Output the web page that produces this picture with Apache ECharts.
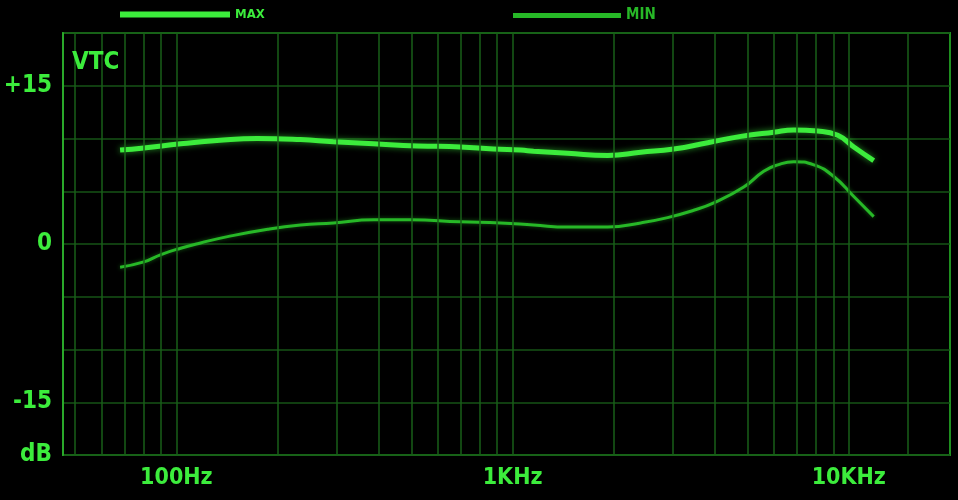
<!DOCTYPE html>
<html>
<head>
<meta charset="utf-8">
<script src="https://cdn.jsdelivr.net/npm/echarts@6/dist/echarts.min.js"></script>
<style>
html,body{margin:0;padding:0;background:#000;}
#chart{width:958px;height:500px;}
</style>
</head>
<body>
<div id="chart"></div>
<script>
// Frequency (Hz) and level (dB)
const freqMax = [68, 80, 103, 132, 174, 234, 293, 386, 521, 700, 878, 1057, 1155, 1458, 1919, 2405, 3015, 3804, 4772, 5983, 6861, 8087, 9273, 10350, 11860];
const dbMax   = [8.9, 9.1, 9.5, 9.8, 10.0, 9.9, 9.7, 9.5, 9.3, 9.2, 9.0, 8.9, 8.8, 8.6, 8.4, 8.7, 9.0, 9.6, 10.2, 10.6, 10.8, 10.7, 10.3, 9.2, 7.9];
const freqMin = [68, 80, 90, 103, 118, 142, 187, 234, 293, 386, 497, 700, 920, 1155, 1458, 1919, 2405, 2891, 3457, 3966, 4870, 5585, 6149, 6861, 7870, 9020, 10350, 11860];
const dbMin   = [-2.2, -1.7, -1.0, -0.4, 0.1, 0.7, 1.4, 1.8, 2.0, 2.3, 2.3, 2.1, 2.0, 1.8, 1.6, 1.6, 2.0, 2.5, 3.2, 3.9, 5.4, 6.9, 7.5, 7.8, 7.5, 6.4, 4.5, 2.6];
const gridFreqs = [50, 60, 70, 80, 90, 100, 200, 300, 400, 500, 600, 700, 800, 900, 1000, 2000, 3000, 4000, 5000, 6000, 7000, 8000, 9000, 10000, 15000];
const xTickLabels = {100: '100Hz', 1000: '1KHz', 10000: '10KHz'};
const yTickLabels = {15: '+15', 0: '0', '-15': '-15', '-20': 'dB'};
const seriesNames = ['MAX', 'MIN'];

const bright = '#3cec3c';
const mid = '#27b827';
const dim = '#185f18';
const font = '"DejaVu Sans Condensed", "DejaVu Sans", sans-serif';

const chart = echarts.init(document.getElementById('chart'));
chart.setOption({
  backgroundColor: '#000',
  animation: false,
  title: {
    text: 'VTC', left: 67, top: 46,
    textStyle: {color: bright, fontSize: 24, fontWeight: 'bold', fontFamily: font}
  },
  legend: [
    {data: [seriesNames[0]], left: 115, top: 3, itemWidth: 110, itemHeight: 6, icon: 'rect', itemGap: 12,
     textStyle: {color: bright, fontSize: 13, fontWeight: 'bold', fontFamily: font}},
    {data: [seriesNames[1]], left: 508, top: 3, itemWidth: 108, itemHeight: 5, icon: 'rect',
     textStyle: {color: mid, fontSize: 15, fontWeight: 'bold', fontFamily: font}}
  ],
  grid: {left: 63, right: 8, top: 33, bottom: 45, show: true, borderColor: '#1f8f1f', borderWidth: 2, containLabel: false},
  xAxis: {
    type: 'log', logBase: 10, min: 46, max: 20000,
    axisLine: {show: false}, axisTick: {show: false}, splitLine: {show: false},
    axisLabel: {
      color: bright, fontSize: 23, fontWeight: 'bold', fontFamily: font, margin: 12,
      showMinLabel: false, showMaxLabel: false,
      formatter: v => xTickLabels[Math.round(v)] || ''
    }
  },
  yAxis: {
    type: 'value', min: -20, max: 20, interval: 5,
    axisLine: {show: true, lineStyle: {color: '#2aa82a', width: 2}},
    axisTick: {show: false},
    splitLine: {show: true, lineStyle: {color: '#165316', width: 1.5}},
    axisLabel: {
      color: bright, fontSize: 24, fontWeight: 'bold', fontFamily: font, margin: 11,
      formatter: v => yTickLabels[String(v)] || ''
    }
  },
  series: [
    {
      type: 'line', name: 'gridV', data: [], z: 1, silent: true,
      markLine: {
        silent: true, symbol: ['none', 'none'], label: {show: false},
        lineStyle: {type: 'solid', color: dim, width: 1.5},
        data: gridFreqs.map(f => ({xAxis: f}))
      }
    },
    {
      type: 'line', name: seriesNames[0], z: 4, smooth: true, showSymbol: false,
      data: freqMax.map((f, i) => [f, dbMax[i]]),
      itemStyle: {color: bright},
      lineStyle: {color: bright, width: 5, shadowBlur: 6, shadowColor: 'rgba(60,236,60,0.6)'}
    },
    {
      type: 'line', name: seriesNames[1], z: 3, smooth: true, showSymbol: false,
      data: freqMin.map((f, i) => [f, dbMin[i]]),
      itemStyle: {color: mid},
      lineStyle: {color: mid, width: 3, shadowBlur: 4, shadowColor: 'rgba(39,184,39,0.5)'}
    }
  ]
});
</script>
</body>
</html>
